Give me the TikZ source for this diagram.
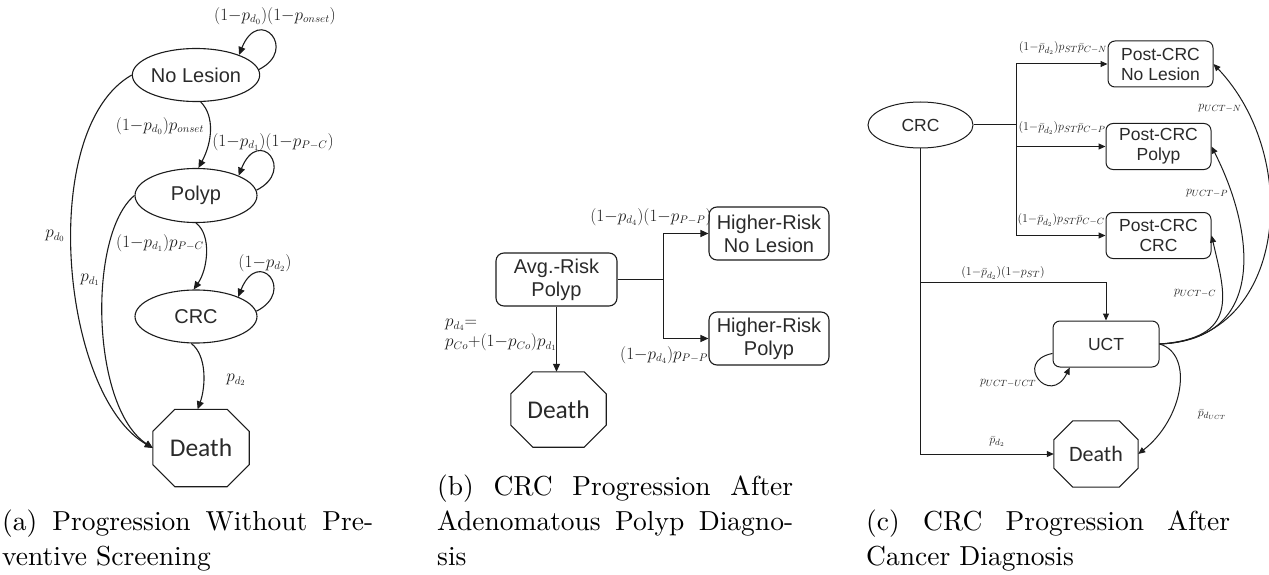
\documentclass[tikz,border=0pt]{standalone}
\usepackage{fontspec}
\usetikzlibrary{arrows.meta,shapes.geometric,calc}
\newfontfamily\arialf{Liberation Sans}
\newfontfamily\carlf{Carlito}
\newfontfamily\capf{lmroman10-regular.otf}
\definecolor{txt}{HTML}{2A2A2A}
\definecolor{lab}{HTML}{1E1E1E}
\definecolor{ln}{HTML}{1C1C1C}
\newcommand\Mneg{\mathord{-}}
\newcommand\Mpls{\mathord{+}}
\newcommand\octo[3]{\draw[ln,line width=#3] ($(#1.north west)+(#2,0)$) -- ($(#1.north east)+(-#2,0)$) -- ($(#1.north east)+(0,#2)$) -- ($(#1.south east)+(0,-#2)$) -- ($(#1.south east)+(-#2,0)$) -- ($(#1.south west)+(#2,0)$) -- ($(#1.south west)+(0,-#2)$) -- ($(#1.north west)+(0,#2)$) -- cycle;}
\begin{document}
\begin{tikzpicture}[x=1pt,y=-1pt,
  ell/.style={ellipse, draw=ln, line width=1.1pt, inner sep=0pt, text=txt, font=\arialf\fontsize{20}{23}\selectfont},
  ellc/.style={ell, line width=1pt, font=\arialf\fontsize{17.5}{20}\selectfont},
  rbox/.style={rectangle, rounded corners=8pt, draw=ln, line width=1.1pt, inner sep=0pt, align=center, text=txt, font=\arialf\fontsize{20}{23}\selectfont, minimum width=120pt, minimum height=53pt},
  rboxc/.style={rbox, rounded corners=7pt, line width=1pt, font=\arialf\fontsize{17.5}{20}\selectfont, minimum width=105pt, minimum height=46pt},
  octn/.style={rectangle, inner sep=0pt, text=txt, font=\carlf\fontsize{25.5}{28}\selectfont},
  octc/.style={octn, font=\carlf\fontsize{22}{25}\selectfont},
  ln1/.style={draw=ln, line width=1.1pt},
  arr/.style={draw=ln, line width=1.1pt, -{Triangle[length=8pt,width=7pt]}},
  arrc/.style={draw=ln, line width=1pt, -{Triangle[length=7pt,width=6pt]}},
  lbl/.style={text=lab, inner sep=0pt, font=\fontsize{16}{20}\selectfont},
  lblc/.style={text=lab, inner sep=0pt, font=\fontsize{13}{16}\selectfont},
  captxt/.style={anchor=base west, inner sep=0pt, font=\capf\fontsize{27.5}{35}\selectfont}
]
\useasboundingbox (0,0) rectangle (1269,575);

% ---------------- panel (a)
\node[ell, minimum width=122pt, minimum height=53pt] (NL) at (196,75) {No Lesion};
\node[ell, minimum width=122pt, minimum height=54pt] (PO) at (196,195.5) {Polyp};
\node[ell, minimum width=122pt, minimum height=53pt] (CR) at (196,316.5) {CRC};
\node[octn, minimum width=96pt, minimum height=77pt] (DA) at (201,448) {Death};
\octo{DA}{22}{1.1pt}

\draw[arr] (NL.5) .. controls +(40,-20) and +(20,-50) .. (NL.25);
\draw[arr] (PO.5) .. controls +(40,-20) and +(20,-50) .. (PO.25);
\draw[arr] (CR.5) .. controls +(40,-20) and +(20,-50) .. (CR.25);
\draw[arr] (NL.-80) .. controls +(14,14) and +(14,-26) .. (PO.85);
\draw[arr] (PO.-90) .. controls +(16,12) and +(14,-20) .. (CR.95);
\draw[arr] (CR.-100) .. controls +(16,12) and +(8,-22) .. (DA.95);
\draw[arr] (NL.west) .. controls +(-95,54) and +(-92,-53) .. (DA.west);
\draw[arr] (PO.west) .. controls +(-47,39) and +(-62,-41) .. (DA.west);

\node[lbl] (lA1) at (275,16) {$(1\Mneg p_{d_0})(1\Mneg p_{onset})$};
\node[lbl] (lA2) at (160,126) {$(1\Mneg p_{d_0})p_{onset}$};
\node[lbl] (lA3) at (273,142) {$(1\Mneg p_{d_1})(1\Mneg p_{P\Mneg C})$};
\node[lbl] (lA4) at (160,243) {$(1\Mneg p_{d_1})p_{P\Mneg C}$};
\node[lbl] (lA5) at (265,263) {$(1\Mneg p_{d_2})$};
\node[lbl] (lA6) at (236,380) {$p_{d_2}$};
\node[lbl] (lA7) at (55,236) {$p_{d_0}$};
\node[lbl] (lA8) at (90,280) {$p_{d_1}$};

% ---------------- panel (b)
\node[rbox, minimum width=121pt] (AV) at (556.5,279.5) {Avg.-Risk\\Polyp};
\node[octn, minimum width=95pt, minimum height=75pt] (DB) at (558.5,409.5) {Death};
\octo{DB}{22}{1.1pt}
\node[rbox] (HN) at (769,233.5) {Higher-Risk\\No Lesion};
\node[rbox] (HP) at (769,338.5) {Higher-Risk\\Polyp};

\draw[arr] (AV) -- (AV |- DB.north);
\draw[ln1] (AV.east) -- ++(46,0) coordinate (BB);
\draw[arr] (BB) |- (HN.west);
\draw[arr] (BB) |- (HP.west);

\node[lbl] (lB1) at (651,217) {$(1\Mneg p_{d_4})(1\Mneg p_{P\Mneg P})$};
\node[lbl] (lB2) at (664,355) {$(1\Mneg p_{d_4})p_{P\Mneg P}$};
\node[lbl, align=left, anchor=west] (lB3) at (445,335) {$p_{d_4}\mathord{=}$\\$p_{Co}\Mpls(1\Mneg p_{Co})p_{d_1}$};

% ---------------- panel (c)
\node[ellc, minimum width=105pt, minimum height=46pt] (C) at (920.5,125) {CRC};
\node[rboxc] (PN) at (1160.5,64) {Post-CRC\\No Lesion};
\node[rboxc] (PP) at (1158.5,146.5) {Post-CRC\\Polyp};
\node[rboxc] (PC) at (1158.5,235.5) {Post-CRC\\CRC};
\node[rboxc, minimum width=106pt] (U) at (1106,344) {UCT};
\node[octc, minimum width=84pt, minimum height=66pt] (DC) at (1096,454) {Death};
\octo{DC}{19}{1pt}

\draw[draw=ln, line width=1pt] (C.east) -- ++(43,0) coordinate (CB);
\draw[arrc] (CB) |- (PN.west);
\draw[arrc] (CB) |- (PP.west);
\draw[arrc] (CB) |- (PC.west);
\draw[arrc] (C.south) |- (DC.west);
\path (C.south) ++(0,134) coordinate (CU);
\draw[arrc] (CU) -| (U.north);

\draw[arrc] (U.east) .. controls +(126,-4) and +(90,95) .. (PN.east);
\draw[arrc] (U.east) .. controls +(110,-4) and +(42,82) .. (PP.east);
\draw[arrc] (U.east) .. controls +(80,-6) and +(14,60) .. (PC.east);
\draw[arrc] (U.east) .. controls +(35,10) and +(45,-35) .. (DC.east);
\draw[arrc] (U.-170) .. controls +(-40,8) and +(-20,40) .. (U.-147);

\node[lblc] (lC1) at (1063,48) {$(1\Mneg\bar p_{d_2})p_{ST}\bar p_{C\Mneg N}$};
\node[lblc] (lC2) at (1062,128) {$(1\Mneg\bar p_{d_2})p_{ST}\bar p_{C\Mneg P}$};
\node[lblc] (lC3) at (1061,220) {$(1\Mneg\bar p_{d_2})p_{ST}\bar p_{C\Mneg C}$};
\node[lblc] (lC4) at (1003,273) {$(1\Mneg\bar p_{d_2})(1\Mneg p_{ST})$};
\node[lblc] (lC5) at (997,442) {$\bar p_{d_2}$};
\node[lblc] (lC6) at (1008,383) {$p_{UCT\Mneg UCT}$};
\node[lblc] (lC7) at (1212,415) {$\bar p_{d_{UCT}}$};
\node[lblc] (lC8) at (1220,108) {$p_{UCT\Mneg N}$};
\node[lblc] (lC9) at (1207,193) {$p_{UCT\Mneg P}$};
\node[lblc] (lC10) at (1195,293) {$p_{UCT\Mneg C}$};

% ---------------- captions
\node[captxt] (ca1) at (2,530) {\makebox[371pt][s]{(a) Progression Without Pre-}};
\node[captxt] (ca2) at (2,565) {ventive Screening};
\node[captxt] (cb1) at (437,495) {\makebox[356pt][s]{(b) CRC Progression After}};
\node[captxt] (cb2) at (437,530) {\makebox[356pt][s]{Adenomatous Polyp Diagno-}};
\node[captxt] (cb3) at (437,565) {sis};
\node[captxt] (cc1) at (866,530) {\makebox[364pt][s]{(c) CRC Progression After}};
\node[captxt] (cc2) at (866,565) {Cancer Diagnosis};
\end{tikzpicture}
\end{document}
